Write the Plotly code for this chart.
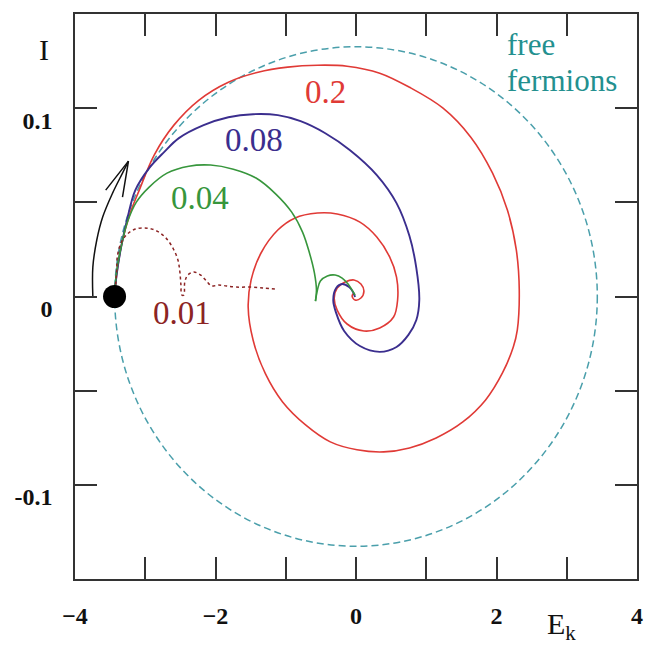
import plotly.graph_objects as go

# ---- data -------------------------------------------------------------
# Trajectories in the (E_k, I) plane, one per coupling value.
RED_E = [-3.437, -3.408, -3.338, -3.225, -3.085, -2.873, -2.592, -2.239, -1.817, -1.394,
         -0.972, -0.549, -0.127, 0.338, 0.761, 1.239, 1.634, 1.944, 2.155, 2.282,
         2.324, 2.296, 2.239, 2.085, 1.845, 1.521, 1.141, 0.761, 0.394, 0.014,
         -0.366, -0.718, -1.045, -1.290, -1.465, -1.535, -1.493, -1.352, -1.113, -0.873,
         -0.549, -0.268, 0.056, 0.296, 0.479, 0.577, 0.592, 0.535, 0.338, 0.113,
         -0.127, -0.268, -0.310, -0.268, -0.155, -0.028, 0.070, 0.113, 0.070, -0.014,
         -0.056, -0.028]
RED_I = [0.0, 0.0114, 0.0273, 0.0432, 0.0565, 0.0751, 0.0910, 0.1042, 0.1138, 0.1191,
         0.1218, 0.1228, 0.1223, 0.1186, 0.1111, 0.1000, 0.0846, 0.0655, 0.0459, 0.0247,
         0.0034, -0.0178, -0.0268, -0.0406, -0.0549, -0.0666, -0.0751, -0.0804, -0.0825, -0.0814,
         -0.0772, -0.0682, -0.0560, -0.0410, -0.0231, -0.0056, 0.0088, 0.0231, 0.0353, 0.0416,
         0.0443, 0.0438, 0.0395, 0.0316, 0.0210, 0.0103, -0.0019, -0.0109, -0.0167, -0.0183,
         -0.0146, -0.0072, -0.0008, 0.0045, 0.0077, 0.0088, 0.0066, 0.0029, -0.0008, -0.0019,
         0.0003, 0.0019]

BLUE_E = [-3.437, -3.408, -3.338, -3.254, -3.141, -2.944, -2.732, -2.521, -2.169, -1.817,
          -1.465, -1.113, -0.789, -0.437, -0.085, 0.296, 0.577, 0.761, 0.859, 0.901,
          0.859, 0.746, 0.577, 0.338, 0.056, -0.169, -0.282, -0.324, -0.282, -0.197,
          -0.099, -0.042, -0.014]
BLUE_I = [0.0, 0.0114, 0.0273, 0.0416, 0.0565, 0.0682, 0.0767, 0.0841, 0.0910, 0.0952,
          0.0968, 0.0963, 0.0931, 0.0867, 0.0777, 0.0645, 0.0496, 0.0321, 0.0151, -0.0019,
          -0.0125, -0.0204, -0.0268, -0.0294, -0.0263, -0.0183, -0.0088, -0.0019, 0.0045, 0.0066,
          0.0050, 0.0024, -0.0003]

# the 0.04 curve: outward arc down to the cusp, then the curl into the centre
GREEN_OUT_E = [-3.437, -3.408, -3.338, -3.254, -3.127, -2.944, -2.690, -2.380, -2.070, -1.746,
               -1.423, -1.141, -0.915, -0.761, -0.662, -0.592, -0.563, -0.577]
GREEN_OUT_I = [0.0, 0.0130, 0.0273, 0.0395, 0.0501, 0.0581, 0.0655, 0.0692, 0.0698, 0.0676,
               0.0629, 0.0544, 0.0448, 0.0342, 0.0231, 0.0125, 0.0034, -0.0024]
GREEN_BACK_E = [-0.577, -0.549, -0.507, -0.408, -0.296, -0.197, -0.113, -0.056, -0.014]
GREEN_BACK_I = [-0.0024, 0.0034, 0.0082, 0.0109, 0.0114, 0.0098, 0.0066, 0.0034, 0.0008]

DOT_E = [-3.437, -3.408, -3.394, -3.338, -3.254, -3.141, -2.972, -2.831, -2.704, -2.606,
         -2.535, -2.507, -2.493, -2.479, -2.451, -2.437, -2.394, -2.310, -2.211, -2.127,
         -2.056, -1.958, -1.845, -1.704, -1.507, -1.324, -1.155]
DOT_I = [0.0, 0.0130, 0.0220, 0.0289, 0.0332, 0.0358, 0.0363, 0.0347, 0.0310, 0.0257,
         0.0194, 0.0130, 0.0066, 0.0008, 0.0008, 0.0077, 0.0114, 0.0130, 0.0114, 0.0082,
         0.0056, 0.0061, 0.0056, 0.0050, 0.0050, 0.0045, 0.0040]

# free-fermion orbit (ellipse half-axes) and the common starting state
FF_E_HALF = 3.435
FF_I_HALF = 0.1326
START_E = [-3.437]
START_I = [0.0]

# arrow showing the direction of motion
ARROW_E = [-3.746, -3.746, -3.690, -3.606, -3.465, -3.324, -3.239]
ARROW_I = [0.0, 0.0156, 0.0300, 0.0422, 0.0549, 0.0655, 0.0719]
ARROW_HEAD_E = [-3.563, -3.239, -3.324]
ARROW_HEAD_I = [0.0565, 0.0719, 0.0528]

CURVE_LABELS = ["0.2", "0.08", "0.04", "0.01"]
CURVE_LABEL_E = [-0.437, -1.451, -2.225, -2.479]
CURVE_LABEL_I = [0.1085, 0.0830, 0.0523, -0.0088]

FF_LABEL_LINES = ["free", "fermions"]
FF_LABEL_E = 2.127
FF_LABEL_I = [0.1340, 0.1149]

X_TICKS = [-4, -2, 0, 2, 4]
X_TICK_TEXT = ["\u22124", "\u22122", "0", "2", "4"]
X_MINOR = [-3, -1, 1, 3]
Y_TICKS = [-0.1, 0, 0.1]
Y_TICK_TEXT = ["-0.1", "0", "0.1"]
Y_MINOR = [-0.15, -0.05, 0.05, 0.15]

# ---- styling ----------------------------------------------------------
RED = "#e03a36"
BLUE = "#3b2e8e"
GREEN = "#37963c"
DARKRED = "#8c2424"
TEAL_LINE = "#4a9fab"
TEAL_TEXT = "#23908f"
FRAME = "#333333"
SERIF = "Liberation Serif"

fig = go.Figure()

# dashed free-fermion orbit
fig.add_shape(type="circle", xref="x", yref="y",
              x0=-FF_E_HALF, x1=FF_E_HALF, y0=-FF_I_HALF, y1=FF_I_HALF,
              line=dict(color=TEAL_LINE, width=1.5, dash="7px,4px"), layer="below")


def curve(xs, ys, color, width=1.5, dash="solid"):
    fig.add_trace(go.Scatter(x=xs, y=ys, mode="lines",
                             line=dict(color=color, width=width, shape="spline",
                                       smoothing=1.0, dash=dash),
                             hoverinfo="skip", showlegend=False))


curve(RED_E, RED_I, RED, 1.6)
curve(BLUE_E, BLUE_I, BLUE, 1.9)
curve(GREEN_OUT_E, GREEN_OUT_I, GREEN, 1.6)
curve(GREEN_BACK_E, GREEN_BACK_I, GREEN, 1.6)
curve(DOT_E, DOT_I, DARKRED, 1.5, "dot")
curve(ARROW_E, ARROW_I, "#111111", 1.5)
fig.add_trace(go.Scatter(x=ARROW_HEAD_E, y=ARROW_HEAD_I, mode="lines",
                         line=dict(color="#111111", width=1.5),
                         hoverinfo="skip", showlegend=False))

# starting point
fig.add_trace(go.Scatter(x=START_E, y=START_I, mode="markers",
                         marker=dict(color="black", size=23),
                         hoverinfo="skip", showlegend=False))

label_colors = [RED, BLUE, GREEN, DARKRED]
for txt, ex, iy, col in zip(CURVE_LABELS, CURVE_LABEL_E, CURVE_LABEL_I, label_colors):
    fig.add_annotation(x=ex, y=iy, text=txt, showarrow=False,
                       font=dict(family=SERIF, size=33, color=col),
                       xanchor="center", yanchor="middle")

for txt, iy in zip(FF_LABEL_LINES, FF_LABEL_I):
    fig.add_annotation(x=FF_LABEL_E, y=iy, text=txt, showarrow=False,
                       font=dict(family=SERIF, size=31, color=TEAL_TEXT),
                       xanchor="left", yanchor="middle")

# axis titles
fig.add_annotation(xref="paper", yref="paper", x=-0.055, y=0.937, text="I",
                   showarrow=False, font=dict(family=SERIF, size=30, color="#111111"),
                   xanchor="center", yanchor="middle")
fig.add_annotation(xref="paper", yref="paper", x=0.865, y=-0.083, text="E<sub>k</sub>",
                   showarrow=False, font=dict(family=SERIF, size=30, color="#111111"),
                   xanchor="center", yanchor="middle")

axis_common = dict(showgrid=False, zeroline=False, showline=True, mirror="ticks",
                   linecolor=FRAME, linewidth=1.5, ticks="inside", ticklen=22,
                   tickwidth=1.5, tickcolor=FRAME,
                   tickfont=dict(family=SERIF, size=24, color="#111111", weight="bold"))

fig.update_xaxes(range=[-4, 4], tickmode="array", tickvals=X_TICKS, ticktext=X_TICK_TEXT,
                 minor=dict(tickmode="array", tickvals=X_MINOR, ticks="inside", ticklen=22,
                            tickwidth=1.5, tickcolor=FRAME, showgrid=False),
                 ticklabelstandoff=14, **axis_common)
fig.update_yaxes(range=[-0.15, 0.15], tickmode="array", tickvals=Y_TICKS, ticktext=Y_TICK_TEXT,
                 minor=dict(tickmode="array", tickvals=Y_MINOR, ticks="inside", ticklen=22,
                            tickwidth=1.5, tickcolor=FRAME, showgrid=False),
                 ticklabelstandoff=16, ticklabelshift=12, **axis_common)

fig.update_layout(width=653, height=648, margin=dict(l=75, r=10, t=14, b=69),
                  paper_bgcolor="white", plot_bgcolor="white", showlegend=False)

fig.write_html("out.html")
